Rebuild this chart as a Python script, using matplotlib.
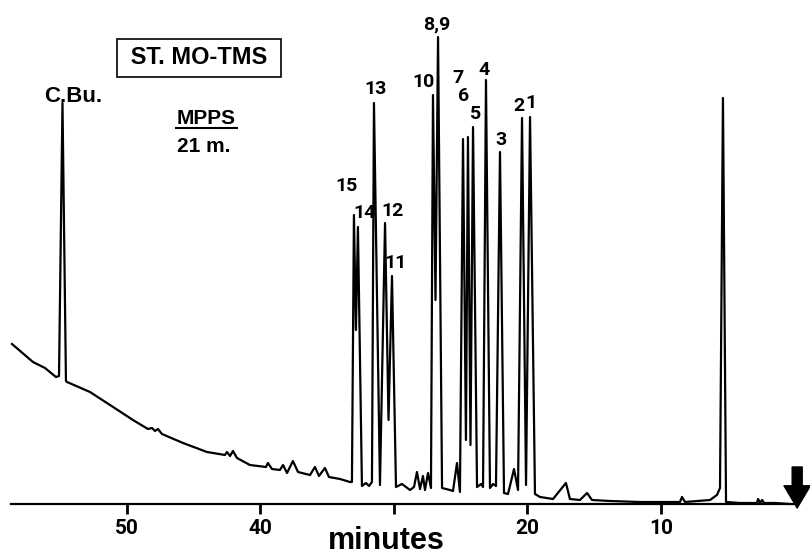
import numpy as np
import matplotlib.pyplot as plt

# Trace: retention time (min) and detector response (arb. units)
trace_time = [58.61, 57.04, 56.14, 55.32, 55.09, 54.83, 54.57, 54.49, 52.77, 51.27,
              49.55, 48.43, 48.13, 47.90, 47.68, 47.38, 45.80, 44.01, 42.66, 42.51,
              42.28, 42.06, 41.76, 40.79, 39.59, 39.44, 39.14, 38.54, 38.31, 38.01,
              37.57, 37.19, 36.29, 35.92, 35.62, 35.17, 34.87, 34.04, 33.30, 33.15,
              33.00, 32.85, 32.70, 32.40, 32.10, 31.87, 31.65, 31.50, 31.05, 30.67,
              30.41, 30.15, 29.85, 29.40, 28.80, 28.50, 28.28, 28.05, 27.83, 27.68,
              27.45, 27.23, 27.08, 26.89, 26.70, 26.40, 25.81, 25.58, 25.28, 25.06,
              24.83, 24.61, 24.46, 24.27, 24.08, 23.78, 23.48, 23.33, 23.11, 22.81,
              22.58, 22.36, 22.06, 21.76, 21.46, 21.01, 20.71, 20.41, 20.11, 19.81,
              19.44, 19.06, 18.09, 17.12, 16.82, 16.07, 15.54, 15.17, 13.82, 11.57,
              8.58, 8.43, 8.20, 6.33, 5.81, 5.58, 5.36, 5.13, 4.08, 2.81,
              2.73, 2.58, 2.43, 2.28, 1.46, 0.34]
trace_signal = [160, 142, 136, 127, 128, 401, 123, 122, 112, 99,
                84, 75, 76, 73, 75, 70, 61, 52, 49, 52,
                48, 53, 46, 39, 37, 41, 35, 34, 39, 31,
                43, 32, 29, 37, 28, 36, 27, 25, 22, 22,
                289, 174, 277, 18, 21, 18, 22, 401, 19, 281,
                84, 228, 17, 20, 14, 17, 32, 15, 28, 14,
                31, 16, 409, 204, 467, 16, 14, 13, 41, 12,
                365, 64, 367, 59, 377, 17, 20, 17, 424, 16,
                20, 18, 352, 11, 10, 35, 14, 386, 19, 387,
                10, 7, 5, 21, 5, 4, 11, 4, 3, 2,
                2, 7, 2, 4, 9, 16, 406, 2, 1, 1,
                5, 1, 4, 1, 1, 0]

# Labelled peaks: name, apex time, apex height
peak_names = ["C.Bu.", "15", "14", "13", "12", "11", "10", "8,9",
              "7", "6", "5", "4", "3", "2", "1"]
peak_times = [54.83, 33.00, 32.70, 31.50, 30.67, 30.15, 27.08, 26.70,
              24.83, 24.46, 24.08, 23.11, 22.06, 20.41, 19.81]
peak_heights = [401, 289, 277, 401, 281, 228, 409, 467,
                365, 367, 377, 424, 352, 386, 387]
# label offsets from apex in pixels (right, up)
label_offsets = [(11, 7), (-7, 29), (7, 14), (2, 14), (7, 12), (4, 13), (-9, 13), (-1, 13),
                 (-5, 61), (-4, 41), (3, 13), (-2, 10), (1, 12), (-3, 12), (1, 14)]

tick_pos = [50, 40, 30, 20, 10]
tick_text = ["50", "40", "", "20", "10"]

fnt = "Liberation Sans"
num_fnt = "Roboto"

fig = plt.figure(figsize=(8.1, 5.55), dpi=100)
ax = fig.add_axes([0, 0, 1, 1])
ax.set_xlim(59.51, -1.16)
ax.set_ylim(-51, 504)

ax.plot(trace_time, trace_signal, color="black", lw=1.6)

for name, t, h, (dx, dy) in zip(peak_names, peak_times, peak_heights, label_offsets):
    if name == "C.Bu.":
        size, fam = 16, fnt
    else:
        size, fam = 14, num_fnt
    ax.annotate(name, xy=(t, h), xytext=(dx, dy), textcoords="offset pixels",
                ha="center", va="center", fontsize=size, fontweight="bold", family=fam)

# axis line with ticks below
for s in ["left", "top", "right"]:
    ax.spines[s].set_visible(False)
ax.spines["bottom"].set_position(("data", 0))
ax.spines["bottom"].set_bounds(-0.2, 58.7)
ax.spines["bottom"].set_linewidth(1.6)
ax.set_yticks([])
ax.set_xticks(tick_pos)
ax.set_xticklabels(tick_text, fontsize=15, fontweight="bold", family=num_fnt)
ax.tick_params(axis="x", direction="out", length=7, width=2, pad=4)

ax.text(30.6, -37, "minutes", ha="center", va="center", fontsize=22,
        fontweight="bold", family=fnt)

# sample identification
ax.text(44.6, 446, " ST. MO-TMS ", ha="center", va="center", fontsize=17,
        fontweight="bold", family=fnt,
        bbox=dict(boxstyle="square,pad=0.3", fc="white", ec="black", lw=1.2))
ax.text(44.04, 386, "MPPS", ha="center", va="center", fontsize=15,
        fontweight="bold", family=fnt)
ax.hlines(376, 41.7, 46.4, color="black", lw=1.5)
ax.text(44.27, 357, "21 m.", ha="center", va="center", fontsize=15,
        fontweight="bold", family=fnt)

# injection marker
ax.annotate("", xy=(-0.2, -4), xytext=(-0.2, 37),
            arrowprops=dict(arrowstyle="simple,head_length=1.6,head_width=1.9,tail_width=0.72",
                            mutation_scale=10, fc="black", ec="black",
                            shrinkA=0, shrinkB=0))

fig.savefig("out.png", dpi=100)
